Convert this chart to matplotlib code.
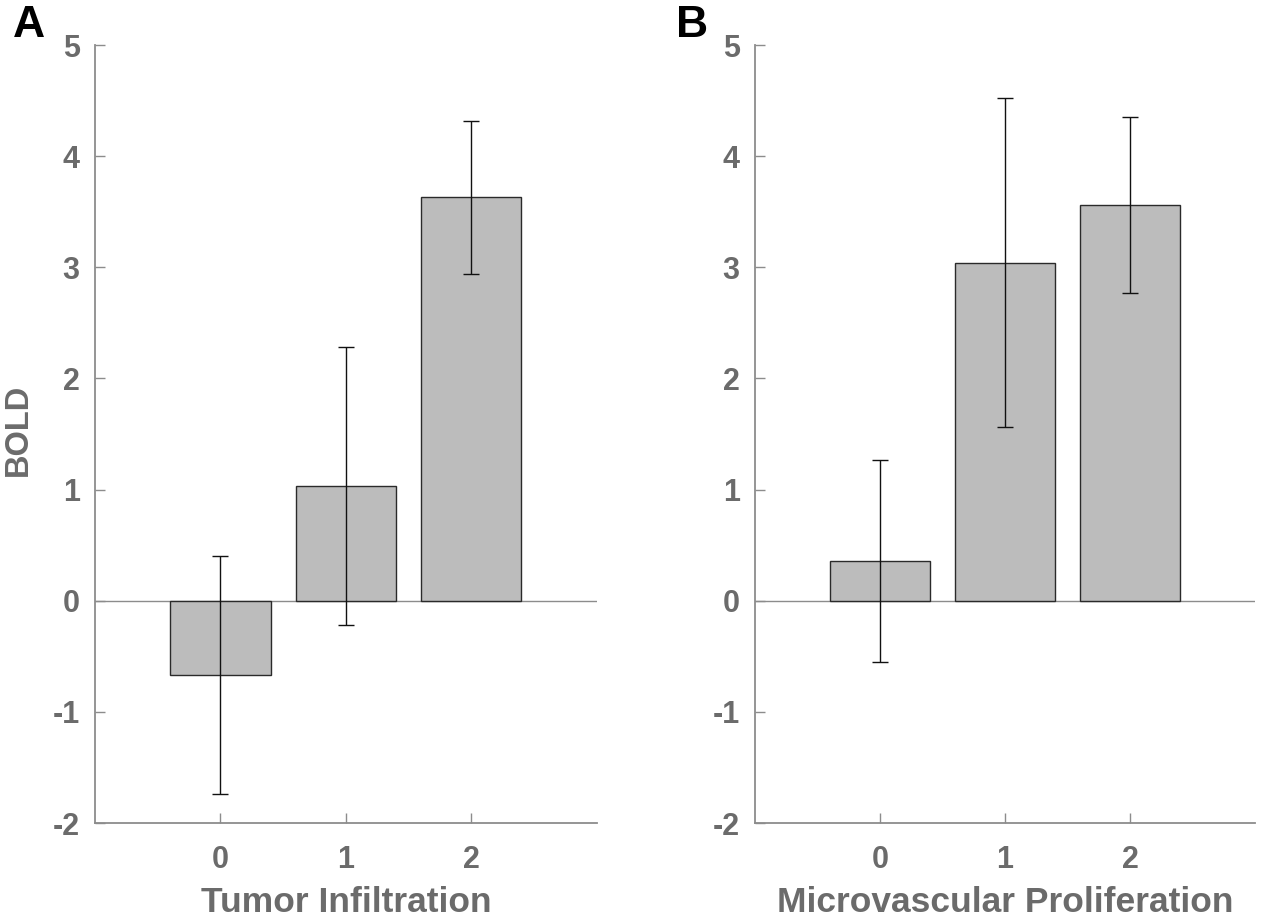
import numpy as np
from matplotlib import pyplot as plt

plt.rcParams['font.family'] = ['Liberation Sans', 'DejaVu Sans']
plt.rcParams['axes.unicode_minus'] = False

# 数据
categories = [0, 1, 2]
infil_mean = [-0.67, 1.03, 3.63]
infil_err = [1.07, 1.25, 0.69]
micro_mean = [0.36, 3.04, 3.56]
micro_err = [0.91, 1.48, 0.79]
xlabels = ['Tumor Infiltration', 'Microvascular Proliferation']
panel_tags = ['A', 'B']

AX_GRAY = '#8c8c8c'
TXT_GRAY = '#6b6b6b'
BAR_FACE = '#bcbcbc'

fig = plt.figure(figsize=(12.67, 9.21), dpi=100)
ax_a = fig.add_axes([0.075, 0.1064, 0.396, 0.8447])
ax_b = fig.add_axes([0.5959, 0.1064, 0.3946, 0.8447])

for ax, means, errs, xl, tag in [
        (ax_a, infil_mean, infil_err, xlabels[0], panel_tags[0]),
        (ax_b, micro_mean, micro_err, xlabels[1], panel_tags[1])]:
    ax.bar(categories, means, width=0.8, color=BAR_FACE,
           edgecolor='#2a2a2a', linewidth=1.0, zorder=2)
    ax.errorbar(categories, means, yerr=errs, fmt='none', ecolor='#111111',
                elinewidth=1.0, capsize=5.8, capthick=1.0, zorder=3)
    # 基线
    ax.axhline(0, color=AX_GRAY, linewidth=1.0, zorder=1)

    ax.set_xlim(-1, 3)
    ax.set_ylim(-2, 5)
    ax.set_xticks(categories)
    ax.set_yticks(range(-2, 6))
    for s in ['top', 'right']:
        ax.spines[s].set_visible(False)
    for s in ['left', 'bottom']:
        ax.spines[s].set_color(AX_GRAY)
        ax.spines[s].set_linewidth(1.3)
    ax.tick_params(direction='in', length=7, width=1.0, color=AX_GRAY,
                   labelcolor=TXT_GRAY, labelsize=22)
    ax.tick_params(axis='y', pad=11)
    ax.tick_params(axis='x', pad=16)
    for lab in ax.get_xticklabels() + ax.get_yticklabels():
        lab.set_fontweight('bold')
    ax.set_xlabel(xl, fontsize=25.5, fontweight='bold', color=TXT_GRAY,
                  labelpad=8)
    ax.text(-0.163 if tag == 'A' else -0.158, 1.0245, tag,
            transform=ax.transAxes, fontsize=32, fontweight='bold',
            color='black', ha='left', va='center')

ax_a.set_ylabel('BOLD', fontsize=23.5, fontweight='bold', color=TXT_GRAY)
ax_a.yaxis.set_label_coords(-0.122, 0.505)

fig.savefig('out.png', dpi=100, facecolor='white')
